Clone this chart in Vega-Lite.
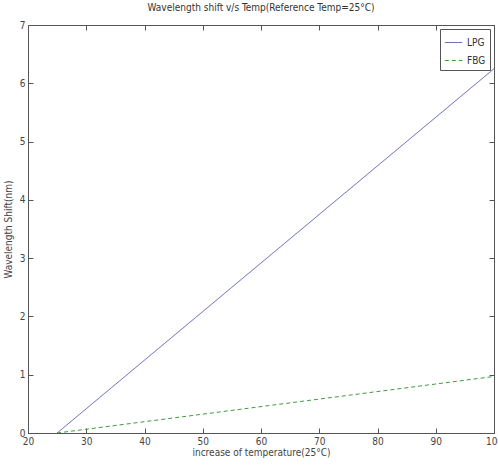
{
  "$schema": "https://vega.github.io/schema/vega-lite/v6.json",
  "autosize": "none",
  "width": 466,
  "height": 408,
  "padding": {"left": 28, "top": 25, "right": 4, "bottom": 32},
  "background": "white",
  "title": {"text": "Wavelength shift v/s Temp(Reference Temp=25°C)", "font": "'DejaVu Sans Condensed', 'Liberation Sans', sans-serif", "fontSize": 10, "fontWeight": "normal", "color": "#333", "offset": 7},
  "config": {
    "view": {"stroke": "#555", "strokeWidth": 1},
    "axis": {"labelFont": "'DejaVu Sans Condensed', 'Liberation Sans', sans-serif", "titleFont": "'DejaVu Sans Condensed', 'Liberation Sans', sans-serif", "labelFontSize": 10, "titleFontSize": 10, "titleFontWeight": "normal", "labelColor": "#444", "titleColor": "#444", "domainColor": "#555", "tickColor": "#555", "grid": false}
  },
  "data": {"values": [
    {"temp": 25, "shift": 0, "series": "LPG"},
    {"temp": 100, "shift": 6.25, "series": "LPG"},
    {"temp": 25, "shift": 0, "series": "FBG"},
    {"temp": 100, "shift": 0.97, "series": "FBG"}
  ]},
  "layer": [
    {
      "mark": {"type": "line", "strokeWidth": 1, "clip": true},
      "encoding": {
        "x": {"field": "temp", "type": "quantitative", "scale": {"domain": [20, 100], "nice": false}, "axis": {"values": [20,30,40,50,60,70,80,90,100], "tickSize": -5, "title": "increase of temperature(25°C)", "titlePadding": 1, "labelPadding": 8, "labelFlush": false}},
        "y": {"field": "shift", "type": "quantitative", "scale": {"domain": [0, 7], "nice": false}, "axis": {"values": [0,1,2,3,4,5,6,7], "tickSize": -5, "title": "Wavelength Shift(nm)", "titlePadding": 6, "labelPadding": 8}},
        "color": {"field": "series", "type": "nominal", "scale": {"domain": ["LPG", "FBG"], "range": ["#5a5ab8", "#3f9a3f"]}, "legend": {"title": null, "orient": "top-right", "offset": 4, "strokeColor": "#555", "fillColor": "white", "padding": 4, "symbolType": "stroke", "symbolSize": 300, "symbolStrokeWidth": 1, "labelFont": "'DejaVu Sans Condensed', 'Liberation Sans', sans-serif", "labelFontSize": 10, "labelColor": "#333", "rowPadding": 3}},
        "strokeDash": {"field": "series", "type": "nominal", "scale": {"domain": ["LPG", "FBG"], "range": [[1, 0], [4, 3]]}, "legend": {"title": null, "orient": "top-right", "offset": 4, "strokeColor": "#555", "fillColor": "white", "padding": 4, "symbolType": "stroke", "symbolSize": 300, "symbolStrokeWidth": 1, "labelFont": "'DejaVu Sans Condensed', 'Liberation Sans', sans-serif", "labelFontSize": 10, "labelColor": "#333", "rowPadding": 3}}
      }
    },
    {
      "mark": {"type": "point", "opacity": 0},
      "encoding": {
        "x": {"field": "temp", "type": "quantitative", "scale": {"domain": [20, 100], "nice": false}, "axis": {"orient": "top", "values": [20,30,40,50,60,70,80,90,100], "tickSize": -5, "labels": false, "title": null}},
        "y": {"field": "shift", "type": "quantitative", "scale": {"domain": [0, 7], "nice": false}, "axis": {"orient": "right", "values": [0,1,2,3,4,5,6,7], "tickSize": -5, "labels": false, "title": null}}
      }
    }
  ],
  "resolve": {"axis": {"x": "independent", "y": "independent"}}
}
